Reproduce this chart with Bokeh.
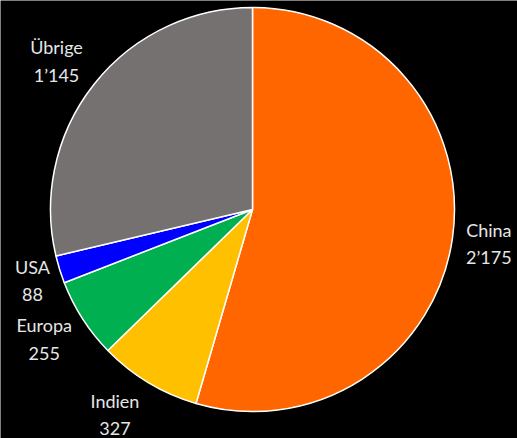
import math
from bokeh.plotting import figure
from bokeh.models import ColumnDataSource, Range1d
from bokeh.core.properties import value
from bokeh.embed import file_html
from bokeh.resources import INLINE

categories = ["China", "Indien", "Europa", "USA", "Übrige"]
values = [2175, 327, 255, 88, 1145]
value_labels = ["2’175", "327", "255", "88", "1’145"]
colors = ["#FF6600", "#FFC000", "#00B050", "#0000FF", "#767171"]

W, H = 517, 438
cx, cy = 252, H - 209
R = 202
gap = 15
char_w = 8.6
half_h = 22

total = sum(values)
starts, ends, lx, ly, texts = [], [], [], [], []
cum = 0.0
for c, v, vl in zip(categories, values, value_labels):
    a0 = math.pi / 2 - 2 * math.pi * cum / total
    cum += v
    a1 = math.pi / 2 - 2 * math.pi * cum / total
    starts.append(a0)
    ends.append(a1)
    mid = (a0 + a1) / 2
    ux, uy = math.cos(mid), math.sin(mid)
    hw = max(len(c), len(vl)) * char_w / 2
    ox = math.copysign(hw * min(1.0, abs(ux) / 0.5), ux)
    oy = uy * half_h
    lx.append(cx + (R + gap) * ux + ox)
    ly.append(cy + (R + gap) * uy + oy)
    texts.append(c + "\n" + vl)

src = ColumnDataSource(dict(start=starts, end=ends, color=colors))
lsrc = ColumnDataSource(dict(x=lx, y=ly, t=texts))

p = figure(width=W, height=H, output_backend="svg", toolbar_location=None,
           x_range=Range1d(0, W), y_range=Range1d(0, H), min_border=0)
p.axis.visible = False
p.grid.visible = False
p.outline_line_color = None
p.background_fill_color = "black"
p.border_fill_color = "black"

p.wedge(x=cx, y=cy, radius=R, start_angle="start", end_angle="end",
        direction="clock", fill_color="color", line_color="white",
        line_width=1.5, source=src)

p.text(x="x", y="y", text="t", source=lsrc, text_align="center",
       text_baseline="middle", text_color="#E6E6E6",
       text_font=value("Lato"), text_font_size="18px", text_line_height=1.25)

open("out.html", "w").write(file_html(p, INLINE))
